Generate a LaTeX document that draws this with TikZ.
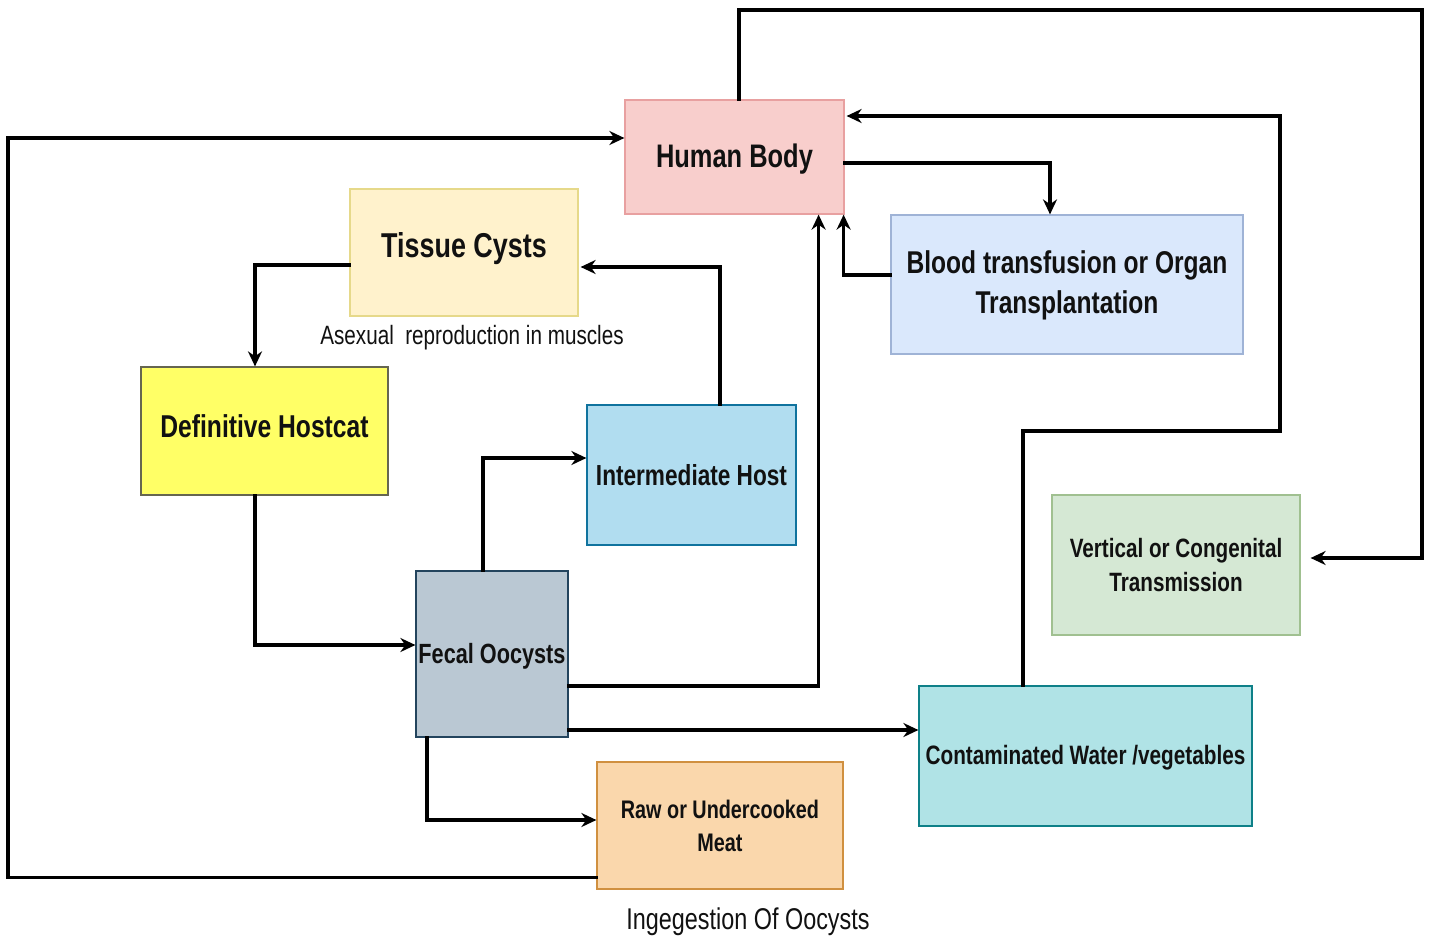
\documentclass[tikz,border=0pt]{standalone}
\usepackage{fontspec}
\setmainfont{Liberation Sans}[FakeStretch=0.78]
\usetikzlibrary{arrows.meta,calc}
\definecolor{txt}{HTML}{111111}
\definecolor{hbF}{HTML}{F8CECC}\definecolor{hbD}{HTML}{E8A0A0}
\definecolor{tcF}{HTML}{FFF2CC}\definecolor{tcD}{HTML}{E6D98A}
\definecolor{btF}{HTML}{DAE8FC}\definecolor{btD}{HTML}{9FB3D6}
\definecolor{dhF}{HTML}{FFFF66}\definecolor{dhD}{HTML}{666650}
\definecolor{ihF}{HTML}{B1DDF0}\definecolor{ihD}{HTML}{10739E}
\definecolor{vcF}{HTML}{D5E8D4}\definecolor{vcD}{HTML}{A0C090}
\definecolor{foF}{HTML}{BAC8D3}\definecolor{foD}{HTML}{23445D}
\definecolor{cwF}{HTML}{B0E3E6}\definecolor{cwD}{HTML}{0E8088}
\definecolor{rmF}{HTML}{FAD7AC}\definecolor{rmD}{HTML}{D09040}
\newcommand{\liftby}[2]{\raisebox{#1}[\height][\depth]{#2}}
\tikzset{
  box/.style={draw, line width=1.2pt, inner sep=0pt, align=center, text=txt},
  arr/.style={line width=3.2pt, -{Stealth[length=15pt,width=14pt]}, line cap=rect},
  fs/.style n args={2}{font=\bfseries\fontsize{#1}{#2}\selectfont},
}
\begin{document}
\begin{tikzpicture}[x=1pt,y=-1pt]
\useasboundingbox[fill=white] (0,0) rectangle (1432,938);
% boxes
\node[box, fill=hbF, draw=hbD, minimum width=219pt, minimum height=114pt, fs={32.6}{38}] (hb) at (734.5,157) {\liftby{-2pt}{Human Body}};
\node[box, fill=tcF, draw=tcD, minimum width=228pt, minimum height=127pt, fs={34.5}{40}] (tc) at (464,252.5) {\liftby{4pt}{Tissue Cysts}};
\node[box, fill=btF, draw=btD, minimum width=352pt, minimum height=139pt, fs={31.5}{40}, text depth=4pt] (bt) at (1067,284.5) {Blood transfusion or Organ\\Transplantation};
\node[box, fill=dhF, draw=dhD, minimum width=247pt, minimum height=128pt, fs={31.6}{38}] (dh) at (264.5,431) {\liftby{5pt}{Definitive Hostcat}};
\node[box, fill=ihF, draw=ihD, minimum width=209pt, minimum height=140pt, fs={29}{34}] (ih) at (691.5,475) {Intermediate Host};
\node[box, fill=vcF, draw=vcD, minimum width=248pt, minimum height=140pt, fs={26.5}{34}] (vc) at (1176,565) {Vertical or Congenital\\Transmission};
\node[box, fill=foF, draw=foD, minimum width=152pt, minimum height=166pt, fs={27.8}{33}] (fo) at (492,654) {\liftby{-2pt}{Fecal Oocysts}};
\node[box, fill=cwF, draw=cwD, minimum width=333pt, minimum height=140pt, fs={26.6}{32}] (cw) at (1085.5,756) {\liftby{-2pt}{Contaminated Water /vegetables}};
\node[box, fill=rmF, draw=rmD, minimum width=246pt, minimum height=127pt, fs={25.4}{33}] (rm) at (720,825.5) {Raw or Undercooked\\Meat};
% free labels
\node[text=txt, font=\fontsize{26.5}{30}\selectfont] (lab1) at (472,338) {Asexual\ \ reproduction in muscles};
\node[text=txt, font=\fontsize{30}{34}\selectfont] (lab2) at (748,922) {Ingegestion Of Oocysts};
% connectors
\draw[arr] ([yshift=12pt]rm.south west) -| (8,500) |- ([yshift=19pt]hb.west);
\draw[arr] ([xshift=4.5pt]hb.north) |- (1422,10) |- ([xshift=10pt,yshift=7pt]vc.east);
\draw[arr] ([xshift=-62.5pt]cw.north) |- (1280,431) |- ([xshift=2pt,yshift=41pt]hb.east);
\draw[arr] ([yshift=-6pt]hb.east) -| ([xshift=-17pt]bt.north);
\draw[arr] ([yshift=9.5pt]bt.west) -| ([xshift=-1pt]hb.south east);
\draw[arr] ([yshift=-32pt]fo.east) -| ([xshift=-26pt]hb.south east);
\draw[arr] ([yshift=-76pt]fo.east) coordinate (p7) -- (p7 -| cw.west);
\draw[arr] ([xshift=-65pt]fo.south) |- ([yshift=5.5pt]rm.west);
\draw[arr] ([xshift=-9pt]fo.north) |- ([yshift=17pt]ih.west);
\draw[arr] ([xshift=28.5pt]ih.north) |- ([xshift=2pt,yshift=-14.5pt]tc.east);
\draw[arr] ([yshift=-12.5pt]tc.west) -| ([xshift=-9.5pt]dh.north);
\draw[arr] ([xshift=-9.5pt]dh.south) |- ([yshift=9pt]fo.west);
\end{tikzpicture}
\end{document}
